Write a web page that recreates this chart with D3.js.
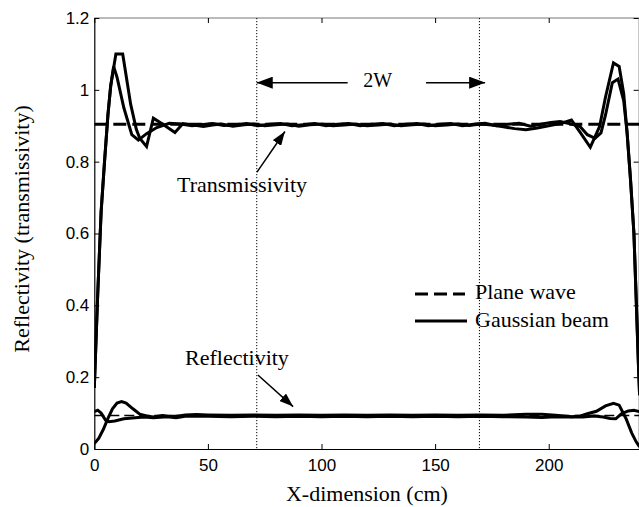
<!DOCTYPE html>
<html>
<head>
<meta charset="utf-8">
<script src="https://cdn.jsdelivr.net/npm/d3@7"></script>
<style>
  html, body { margin: 0; padding: 0; background: #fff; }
  svg { display: block; }
</style>
</head>
<body>
<svg id="chart" width="639" height="507"></svg>
<script>
// ---------------- DATA ----------------
const xTicks = [0, 50, 100, 150, 200];
const xTickLabels = ["0", "50", "100", "150", "200"];
const yTicks = [0, 0.2, 0.4, 0.6, 0.8, 1, 1.2];
const yTickLabels = ["0", "0.2", "0.4", "0.6", "0.8", "1", "1.2"];

const planeWaveT = 0.904;
const planeWaveR = 0.093;
const beamEdges = [71.5, 169.5];

// Gaussian beam, transmissivity (two solid curves)
const transA = [
  [0,0.17],[1.5,0.43],[3,0.66],[4.5,0.8],[6,0.93],[7.2,1.01],[9.5,1.1],[12.5,1.1],
  [14,1.04],[16,0.96],[18.5,0.89],[20,0.865],[23,0.842],[26,0.921],[30,0.905],
  [35.5,0.881],[39,0.906],[43,0.903],[48,0.898],[52,0.902],[56,0.905],[61,0.899],
  [66,0.903],[70,0.905],[75,0.9],[80,0.903],[85,0.905],[90,0.899],[95,0.903],
  [100,0.905],[105,0.9],[110,0.902],[115,0.905],[120,0.9],[125,0.902],[130,0.905],
  [135,0.9],[140,0.903],[145,0.905],[150,0.9],[155,0.902],[160,0.905],[165,0.901],
  [170,0.905],[175,0.902],[180,0.897],[185,0.892],[190,0.889],[195,0.894],[200,0.9],
  [205,0.906],[210,0.916],[214,0.88],[218.3,0.84],[222.4,0.898],[225,0.98],
  [228.5,1.075],[231,1.065],[233,0.99],[234.5,0.88],[236,0.75],[237.5,0.6],
  [238.6,0.4],[239.4,0.25],[240,0.15]
];
const transB = [
  [0,0.17],[1.5,0.43],[3,0.66],[4.5,0.8],[6,0.93],[7.2,1.01],[8.5,1.065],[10,1.035],
  [13,0.95],[16.5,0.875],[19.4,0.86],[23,0.878],[27.5,0.895],[33,0.907],[38,0.905],
  [43,0.9],[47,0.903],[52,0.906],[57,0.901],[62,0.903],[67,0.906],[72,0.9],
  [77,0.904],[82,0.906],[87,0.9],[92,0.903],[97,0.906],[102,0.9],[107,0.904],
  [112,0.906],[117,0.9],[122,0.904],[127,0.906],[132,0.9],[137,0.904],[142,0.906],
  [147,0.9],[152,0.904],[157,0.906],[162,0.9],[167,0.904],[172,0.907],[177,0.9],
  [182,0.904],[187,0.907],[192,0.899],[197,0.905],[201,0.909],[205,0.912],
  [210,0.905],[213.8,0.898],[217,0.875],[220.4,0.865],[223,0.88],[225,0.93],
  [228,1.02],[230.5,1.03],[233,0.97],[234.5,0.88],[236,0.75],[237.5,0.6],
  [238.6,0.4],[239.4,0.25],[240,0.15]
];

// Gaussian beam, reflectivity (two solid curves)
const reflA = [
  [0,0.015],[2,0.03],[4,0.055],[6,0.085],[8,0.112],[10,0.128],[12,0.132],[14,0.128],
  [17,0.112],[20,0.097],[23,0.092],[26,0.089],[30,0.093],[35,0.09],[40,0.095],
  [45,0.096],[50,0.095],[60,0.094],[70,0.095],[80,0.094],[90,0.095],[100,0.094],
  [110,0.095],[120,0.094],[130,0.095],[140,0.094],[150,0.095],[160,0.094],
  [170,0.095],[180,0.094],[190,0.097],[197,0.097],[203,0.094],[210,0.09],
  [214,0.092],[217,0.098],[221,0.105],[225,0.12],[228.5,0.127],[231,0.122],
  [234,0.085],[236.5,0.045],[238.5,0.02],[240,0.006]
];
const reflB = [
  [0,0.104],[1.5,0.108],[3,0.1],[5,0.08],[6.5,0.076],[9,0.078],[13,0.084],[18,0.087],
  [22,0.089],[26,0.087],[32,0.09],[36,0.087],[40,0.091],[50,0.091],[60,0.09],
  [70,0.091],[80,0.09],[90,0.091],[100,0.09],[110,0.091],[120,0.09],[130,0.091],
  [140,0.09],[150,0.091],[160,0.09],[170,0.091],[180,0.09],[190,0.089],
  [197,0.088],[203,0.09],[210,0.089],[215,0.089],[220,0.092],[224,0.089],
  [227,0.085],[229.5,0.084],[232,0.098],[235,0.106],[237.5,0.108],[240,0.104]
];

const legendLabels = ["Plane wave", "Gaussian beam"];

// ---------------- LAYOUT ----------------
(function () {
const serif = "'Liberation Serif', 'Times New Roman', serif";
const sans = "'Liberation Sans', Arial, sans-serif";
const svg = d3.select("#chart");
const pL = 94.3, pR = 639.6, pT = 18, pB = 449;
const x = d3.scaleLinear().domain([0, 240]).range([pL, pR]);
const y = d3.scaleLinear().domain([0, 1.2]).range([pB, pT]);

const defs = svg.append("defs");
defs.append("marker")
  .attr("id", "ah").attr("markerUnits", "userSpaceOnUse")
  .attr("viewBox", "0 0 16 12").attr("refX", 16).attr("refY", 6)
  .attr("markerWidth", 16).attr("markerHeight", 12).attr("orient", "auto")
  .append("path").attr("d", "M0,0 L16,6 L0,12 Z").attr("fill", "#000");
defs.append("marker")
  .attr("id", "ahs").attr("markerUnits", "userSpaceOnUse")
  .attr("viewBox", "0 0 14 10").attr("refX", 14).attr("refY", 5)
  .attr("markerWidth", 14).attr("markerHeight", 10).attr("orient", "auto")
  .append("path").attr("d", "M0,0 L14,5 L0,10 Z").attr("fill", "#000");

defs.append("clipPath").attr("id", "plotclip")
  .append("rect").attr("x", pL).attr("y", pT - 10)
  .attr("width", pR - pL + 2).attr("height", pB - pT + 12);

// frame: top & right
svg.append("line").attr("x1", pL).attr("x2", pR).attr("y1", pT).attr("y2", pT)
  .attr("stroke", "#777").attr("stroke-width", 1);
svg.append("line").attr("x1", pR - 0.5).attr("x2", pR - 0.5).attr("y1", pT).attr("y2", pB)
  .attr("stroke", "#777").attr("stroke-width", 1);

// axes
const xAxis = d3.axisBottom(x).tickValues(xTicks)
  .tickFormat((d, i) => xTickLabels[i]).tickSizeInner(-5).tickSizeOuter(0).tickPadding(10);
const yAxis = d3.axisLeft(y).tickValues(yTicks)
  .tickFormat((d, i) => yTickLabels[i]).tickSizeInner(-5).tickSizeOuter(0).tickPadding(5);
const xTop = d3.axisTop(x).tickValues(xTicks).tickFormat("").tickSizeInner(-5).tickSizeOuter(0);
const yRight = d3.axisRight(y).tickValues(yTicks).tickFormat("").tickSizeInner(-5).tickSizeOuter(0);

const gx = svg.append("g").attr("transform", `translate(0,${pB})`).call(xAxis);
const gy = svg.append("g").attr("transform", `translate(${pL},0)`).call(yAxis);
const gxt = svg.append("g").attr("transform", `translate(0,${pT})`).call(xTop);
const gyr = svg.append("g").attr("transform", `translate(${pR - 1},0)`).call(yRight);
[gxt, gyr].forEach(g => g.select(".domain").remove());
[gx, gy].forEach(g => {
  g.select(".domain").attr("stroke", "#000").attr("stroke-width", 1.2);
  g.selectAll("text").attr("font-family", sans).attr("font-size", 17).attr("fill", "#000");
});
svg.selectAll(".tick line").attr("stroke", "#000").attr("stroke-width", 1);

// dotted beam-width lines
svg.selectAll(".edge").data(beamEdges).enter().append("line")
  .attr("x1", d => x(d)).attr("x2", d => x(d)).attr("y1", pT).attr("y2", pB)
  .attr("stroke", "#000").attr("stroke-width", 1).attr("stroke-dasharray", "1.2,1.8");

const plot = svg.append("g").attr("clip-path", "url(#plotclip)");
const line = d3.line().x(d => x(d[0])).y(d => y(d[1]));

// plane wave dashed
plot.append("line").attr("x1", x(0)).attr("x2", x(240))
  .attr("y1", y(planeWaveT)).attr("y2", y(planeWaveT))
  .attr("stroke", "#000").attr("stroke-width", 3).attr("stroke-dasharray", "13,6");
plot.append("line").attr("x1", x(0)).attr("x2", x(240))
  .attr("y1", y(planeWaveR)).attr("y2", y(planeWaveR))
  .attr("stroke", "#000").attr("stroke-width", 1.5).attr("stroke-dasharray", "10,5");

// gaussian beam solid curves
[transA, transB, reflA, reflB].forEach(s => {
  plot.append("path").datum(s).attr("d", line)
    .attr("fill", "none").attr("stroke", "#000").attr("stroke-width", 3)
    .attr("stroke-linejoin", "miter").attr("stroke-miterlimit", 3);
});

// annotations
const ann = svg.append("g").attr("fill", "#000");
ann.append("line").attr("x1", x(111.5)).attr("x2", x(71.5)).attr("y1", y(1.02)).attr("y2", y(1.02))
  .attr("stroke", "#000").attr("stroke-width", 1.5).attr("marker-end", "url(#ah)");
ann.append("line").attr("x1", x(146)).attr("x2", x(172)).attr("y1", y(1.02)).attr("y2", y(1.02))
  .attr("stroke", "#000").attr("stroke-width", 1.5).attr("marker-end", "url(#ah)");
ann.append("text").attr("x", x(124.7)).attr("y", 87).attr("text-anchor", "middle")
  .attr("font-size", 20).attr("font-family", serif).text("2W");

ann.append("text").attr("x", 177).attr("y", 192).attr("font-size", 22)
  .attr("font-family", serif).text("Transmissivity");
ann.append("line").attr("x1", x(71.6)).attr("y1", y(0.771)).attr("x2", x(83.9)).attr("y2", y(0.884))
  .attr("stroke", "#000").attr("stroke-width", 1.5).attr("marker-end", "url(#ahs)");

ann.append("text").attr("x", 185).attr("y", 365).attr("font-size", 22)
  .attr("font-family", serif).text("Reflectivity");
ann.append("line").attr("x1", x(72)).attr("y1", y(0.206)).attr("x2", x(87.5)).attr("y2", y(0.118))
  .attr("stroke", "#000").attr("stroke-width", 1.5).attr("marker-end", "url(#ahs)");

// legend
const leg = svg.append("g");
leg.append("line").attr("x1", 415).attr("x2", 465).attr("y1", 294).attr("y2", 294)
  .attr("stroke", "#000").attr("stroke-width", 3).attr("stroke-dasharray", "13,6");
leg.append("line").attr("x1", 415).attr("x2", 467).attr("y1", 321).attr("y2", 321)
  .attr("stroke", "#000").attr("stroke-width", 3);
leg.selectAll("text").data(legendLabels).enter().append("text")
  .attr("x", 475).attr("y", (d, i) => i === 0 ? 299 : 327)
  .attr("font-size", 22).attr("font-family", serif).text(d => d);

// axis titles
svg.append("text").attr("x", (pL + pR) / 2).attr("y", 501).attr("text-anchor", "middle")
  .attr("font-size", 22).attr("font-family", serif).text("X-dimension (cm)");
svg.append("text").attr("transform", "translate(29,229) rotate(-90)").attr("text-anchor", "middle")
  .attr("font-size", 22).attr("font-family", serif).text("Reflectivity (transmissivity)");
})();
</script>
</body>
</html>
